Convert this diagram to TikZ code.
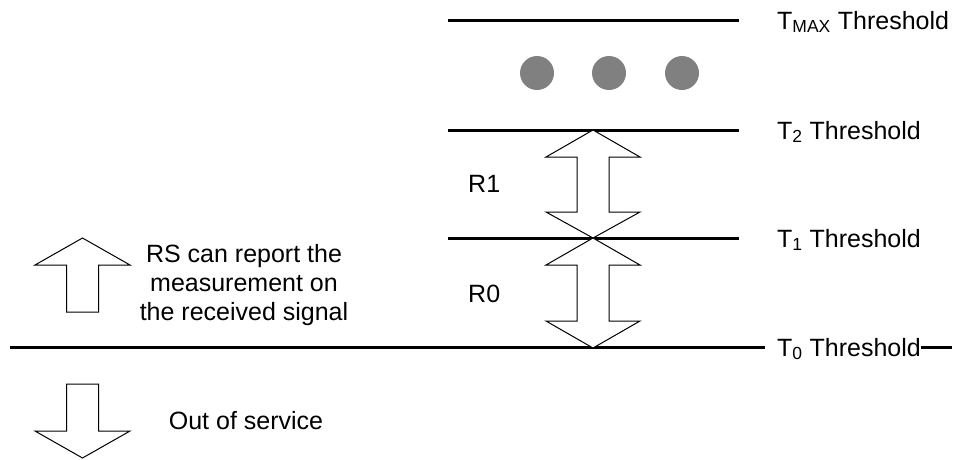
\documentclass[tikz,border=0pt]{standalone}
\usepackage{fontspec}
\setmainfont{Liberation Sans}
\begin{document}
\begin{tikzpicture}[x=1pt,y=-1pt,
  thr/.style={line width=3pt},
  blockarrow/.style={draw=black,line width=1pt,fill=white,line join=miter},
  lbl/.style={font=\fontsize{25}{28.7}\selectfont,inner sep=0pt},
  dot/.style={circle,fill=black!50,inner sep=0pt,minimum size=34pt}]
\useasboundingbox (0,0) rectangle (955,459);
% threshold lines
\coordinate (amax) at (448,20);  \coordinate (bmax) at (739,20);
\coordinate (a2) at (448,130);   \coordinate (b2) at (739,130);
\coordinate (a1) at (448,238);   \coordinate (b1) at (739,238);
\coordinate (a0) at (10,347);    \coordinate (b0) at (952,347);
\draw[thr] (amax) -- (bmax);
\draw[thr] (a2) -- (b2);
\draw[thr] (a1) -- (b1);
% labels
\node[lbl,anchor=base west] (tmax) at (777,29) {T\textsubscript{MAX} Threshold};
\node[lbl,anchor=base west] (t2) at (777,139) {T\textsubscript{2} Threshold};
\node[lbl,anchor=base west] (t1) at (777,247) {T\textsubscript{1} Threshold};
\node[lbl,anchor=base west] (t0) at (777,356) {T\textsubscript{0} Threshold};
\draw[thr,shorten >=12pt] (a0) -- (t0.west |- a0);
\draw[thr] (t0.east |- a0) -- (b0);
% dots
\node[dot] (d1) at (537,73) {};
\node[dot] (d2) at (609,73) {};
\node[dot] (d3) at (682,73) {};
% double arrows
\draw[blockarrow] (593,130) -- (640,157) -- (609,157) -- (609,212) -- (640,212) -- (593,238)
  -- (546,212) -- (577,212) -- (577,157) -- (546,157) -- cycle;
\draw[blockarrow] (593,238) -- (640,265) -- (609,265) -- (609,321) -- (640,321) -- (593,348)
  -- (546,321) -- (577,321) -- (577,265) -- (546,265) -- cycle;
% R labels
\node[lbl,anchor=base west] (r1) at (468,192) {R1};
\node[lbl,anchor=base west] (r0) at (468,302) {R0};
% left arrows
\draw[blockarrow] (82.5,238) -- (130,265) -- (98.5,265) -- (98.5,312) -- (66.5,312) -- (66.5,265) -- (35,265) -- cycle;
\draw[blockarrow] (66.5,384) -- (98.5,384) -- (98.5,431) -- (130,431) -- (82.5,458) -- (35,431) -- (66.5,431) -- cycle;
\node[lbl,align=center] (rs) at (244,285) {RS can report the\\measurement on\\the received signal};
\node[lbl,anchor=base] (oos) at (246,429) {Out of service};
\end{tikzpicture}
\end{document}
